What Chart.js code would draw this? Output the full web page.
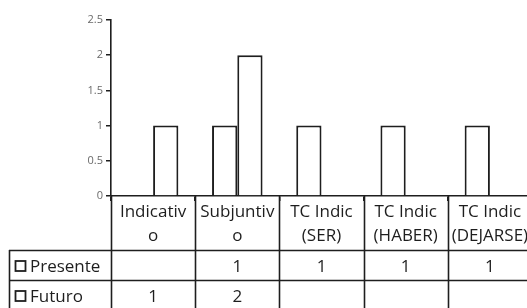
<!DOCTYPE html>
<html>
<head>
<meta charset="utf-8">
<script src="https://cdn.jsdelivr.net/npm/chart.js@4"></script>
<style>
  html, body { margin: 0; padding: 0; background: #fff; overflow: hidden; }
  #wrap { width: 540px; height: 308px; }
</style>
</head>
<body>
<div id="wrap"><canvas id="chart"></canvas></div>
<script>
// categories are split over two lines, like the table header
const categories = [
  ['Indicativ', 'o'],
  ['Subjuntiv', 'o'],
  ['TC Indic', '(SER)'],
  ['TC Indic', '(HABER)'],
  ['TC Indic', '(DEJARSE)']
];
const seriesNames = ['Presente', 'Futuro'];
const presente = [null, 1, 1, 1, 1];
const futuro = [1, 2, null, null, null];
const yTicks = [0, 0.5, 1, 1.5, 2, 2.5];

const ink = '#1e1e1e';
const textFont = '17px "Open Sans", sans-serif';

// data table under the plot
const tablePlugin = {
  id: 'dataTable',
  afterDraw(chart) {
    const ctx = chart.ctx;
    const area = chart.chartArea;
    const x = chart.scales.x;
    const top = area.bottom;
    const headerH = 54;
    const rowH = 30;
    const legendLeft = 9;
    const bottom = chart.height;
    const n = categories.length;
    const rows = [presente, futuro];

    ctx.save();
    ctx.fillStyle = ink;
    ctx.font = textFont;
    ctx.textAlign = 'center';
    ctx.textBaseline = 'middle';

    // header labels, clipped to their cell
    categories.forEach((lines, i) => {
      const l = x.getPixelForValue(i - 0.5);
      const r = x.getPixelForValue(i + 0.5);
      const cx = x.getPixelForValue(i);
      ctx.save();
      ctx.beginPath();
      ctx.rect(l + 1, top, r - l - 2, headerH);
      ctx.clip();
      lines.forEach((t, k) => ctx.fillText(t, cx, top + 16 + k * 24));
      ctx.restore();
    });

    ctx.strokeStyle = ink;
    ctx.lineWidth = 1.6;

    // vertical lines at category borders
    for (let i = 0; i <= n; i++) {
      const px = Math.round(x.getPixelForValue(i - 0.5)) + 0.5;
      ctx.beginPath();
      ctx.moveTo(px, top);
      ctx.lineTo(px, bottom);
      ctx.stroke();
    }
    // legend column border
    ctx.beginPath();
    ctx.moveTo(legendLeft + 0.5, top + headerH);
    ctx.lineTo(legendLeft + 0.5, bottom);
    ctx.stroke();
    // row lines
    for (let r = 0; r <= rows.length; r++) {
      const py = Math.round(top + headerH + r * rowH) + 0.5;
      ctx.beginPath();
      ctx.moveTo(legendLeft, py);
      ctx.lineTo(x.right, py);
      ctx.stroke();
    }

    // rows: legend key, name, values
    rows.forEach((vals, r) => {
      const cy = top + headerH + r * rowH + rowH / 2 + 2;
      ctx.lineWidth = 1.8;
      ctx.strokeRect(15.5, cy - 6, 10, 10);
      ctx.textAlign = 'left';
      ctx.fillText(seriesNames[r], 30, cy);
      ctx.textAlign = 'center';
      vals.forEach((v, i) => {
        if (v !== null) ctx.fillText(String(v), x.getPixelForValue(i), cy);
      });
    });
    ctx.restore();
  }
};

new Chart(document.getElementById('chart'), {
  type: 'bar',
  data: {
    labels: categories,
    datasets: [
      { label: seriesNames[0], data: presente },
      { label: seriesNames[1], data: futuro }
    ].map(d => Object.assign(d, {
      backgroundColor: '#fff',
      borderColor: ink,
      borderWidth: 2,
      categoryPercentage: 0.6,
      barPercentage: 1.0
    }))
  },
  options: {
    responsive: true,
    maintainAspectRatio: false,
    animation: false,
    layout: { padding: { top: 20, right: 8, left: 0, bottom: 0 } },
    plugins: {
      legend: { display: false },
      tooltip: { enabled: false }
    },
    scales: {
      x: {
        ticks: { display: false },
        grid: { drawOnChartArea: false, drawTicks: true, tickLength: 5, color: ink, lineWidth: 1.5 },
        border: { display: true, color: ink, width: 1.6 },
        afterFit: s => { s.height = 112; }
      },
      y: {
        min: 0,
        max: 2.5,
        afterBuildTicks: s => { s.ticks = yTicks.map(v => ({ value: v })); },
        ticks: {
          color: '#6a6a6a',
          font: { family: '"Open Sans", sans-serif', size: 11 },
          padding: 3,
          callback: v => String(v)
        },
        grid: { drawOnChartArea: false, drawTicks: true, tickLength: 5, color: ink, lineWidth: 1.5 },
        border: { display: true, color: ink, width: 1.6 },
        afterFit: s => { s.width = 111; }
      }
    }
  },
  plugins: [tablePlugin]
});
</script>
</body>
</html>
